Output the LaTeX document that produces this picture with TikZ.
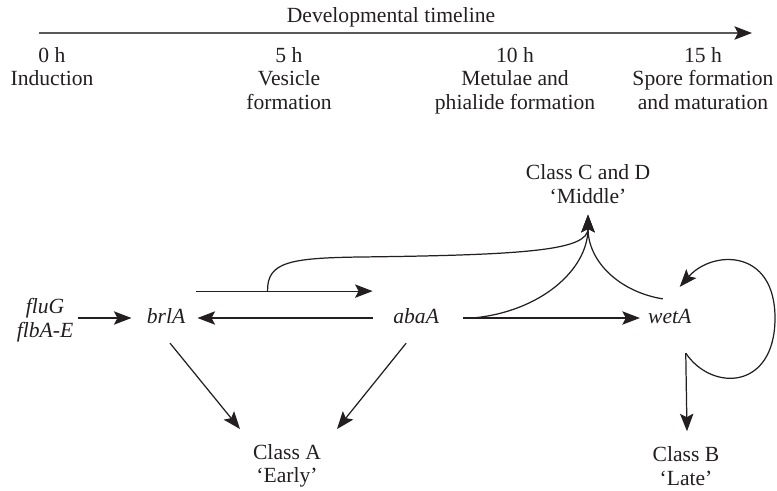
\documentclass[tikz,border=0pt]{standalone}
\usepackage{fontspec}
\setmainfont{Liberation Serif}
\usetikzlibrary{arrows.meta,positioning,calc}

\definecolor{ink}{RGB}{35,31,32}

\begin{document}
\begin{tikzpicture}[
    x=0.02cm, y=-0.02cm,
    font=\fontsize{12.3}{13.4}\selectfont,
    every node/.style={text=ink},
    gene/.style={font=\fontsize{12.3}{13.4}\selectfont\itshape, inner sep=0pt, text height=8pt, text depth=2pt},
    regulators/.style={font=\fontsize{12.3}{13.4}\selectfont\itshape, inner sep=0pt, align=center},
    stage/.style={align=center, inner sep=0pt, anchor=north},
    target/.style={align=center, inner sep=0pt},
    arrow/.style={-{Stealth[length=10pt, width=7.6pt, inset=2pt]}, line width=0.7pt, draw=ink},
    timeline/.style={-{Stealth[length=10pt, width=7.6pt, inset=2pt, color=ink]}, line width=1pt, draw=black!65}
]
    \useasboundingbox (0,0) rectangle (777,490);

    % Time axis
    \coordinate (tl start) at (39,33);
    \coordinate (tl end) at (752,33);
    \draw[timeline] (tl start) -- (tl end);
    \node (tltitle) at (391,17) {Developmental timeline};

    % Stages along the axis
    \node[stage] (t0) at (52,47) {0 h\\Induction};
    \node[stage] (t5) at (289,47) {5 h\\Vesicle\\formation};
    \node[stage] (t10) at (515,47) {10 h\\Metulae and\\phialide formation};
    \node[stage] (t15) at (703,47) {15 h\\Spore formation\\and maturation};

    % Central regulatory genes
    \node[gene] (brlA) at (166,318) {brlA};
    \node[gene, right=4.15cm of brlA] (abaA) {abaA};
    \node[gene, right=4.17cm of abaA] (wetA) {wetA};
    \node[regulators] (regs) at (45,320) {fluG\\flbA-E};

    % Target gene classes
    \node[target] (classA) at (287,466) {Class A\\`Early'};
    \node[target] (classB) at (686,466) {Class B\\`Late'};
    \node[target] (classC) at (588,184) {Class C and D\\`Middle'};

    % Branch points
    \coordinate (fork) at ($(brlA.east)+(82,-27)$);
    \coordinate (branch) at ($(abaA.east)+(33,0)$);
    \coordinate (ctip) at ($(classC.south)+(0,11)$);
    \coordinate (wetfoot) at ($(wetA.south)+(16,26)$);
    \coordinate (wetback) at ($(wetA.north east)+(-12,-22)$);
    \coordinate (wettop) at ($(wetA.north west)+(15,-10)$);

    % Main cascade
    \draw[arrow, shorten <=2.5pt, shorten >=8.5pt] (regs.east |- brlA) -- (brlA.west);
    \draw[arrow, shorten <=6.2pt, shorten >=11.6pt] ([yshift=15.3pt]brlA.east) -- ([yshift=15.3pt]abaA.west);
    \draw[arrow, shorten <=11.3pt, shorten >=6.8pt] (abaA.west) -- (brlA.east);
    \draw[arrow, shorten <=13.3pt, shorten >=4.5pt] (abaA.east) -- (wetA.west);

    % Middle genes
    \draw[arrow] (fork) .. controls (267,262) and (290,258) .. (360,257) .. controls (530,255) and (588,250) .. (ctip);
    \draw[arrow] (branch) .. controls (540,312) and (588,270) .. (ctip);
    \draw[arrow] (wettop) .. controls (620,292) and (588,262) .. (ctip);

    % Early genes
    \draw[arrow] ($(brlA.south)+(4,16)$) -- ($(classA.north)+(-47,-15)$);
    \draw[arrow] ($(abaA.south)+(-10,16)$) -- ($(classA.north)+(50,-15)$);

    % Late genes and wetA feedback
    \draw[arrow] (wetfoot) -- ($(classB.north)+(1,-15)$);
    \draw[arrow] (wetfoot) .. controls (712,392) and (775,390) .. (775,318) .. controls (775,248) and (712,250) .. (wetback);

\end{tikzpicture}
\end{document}
